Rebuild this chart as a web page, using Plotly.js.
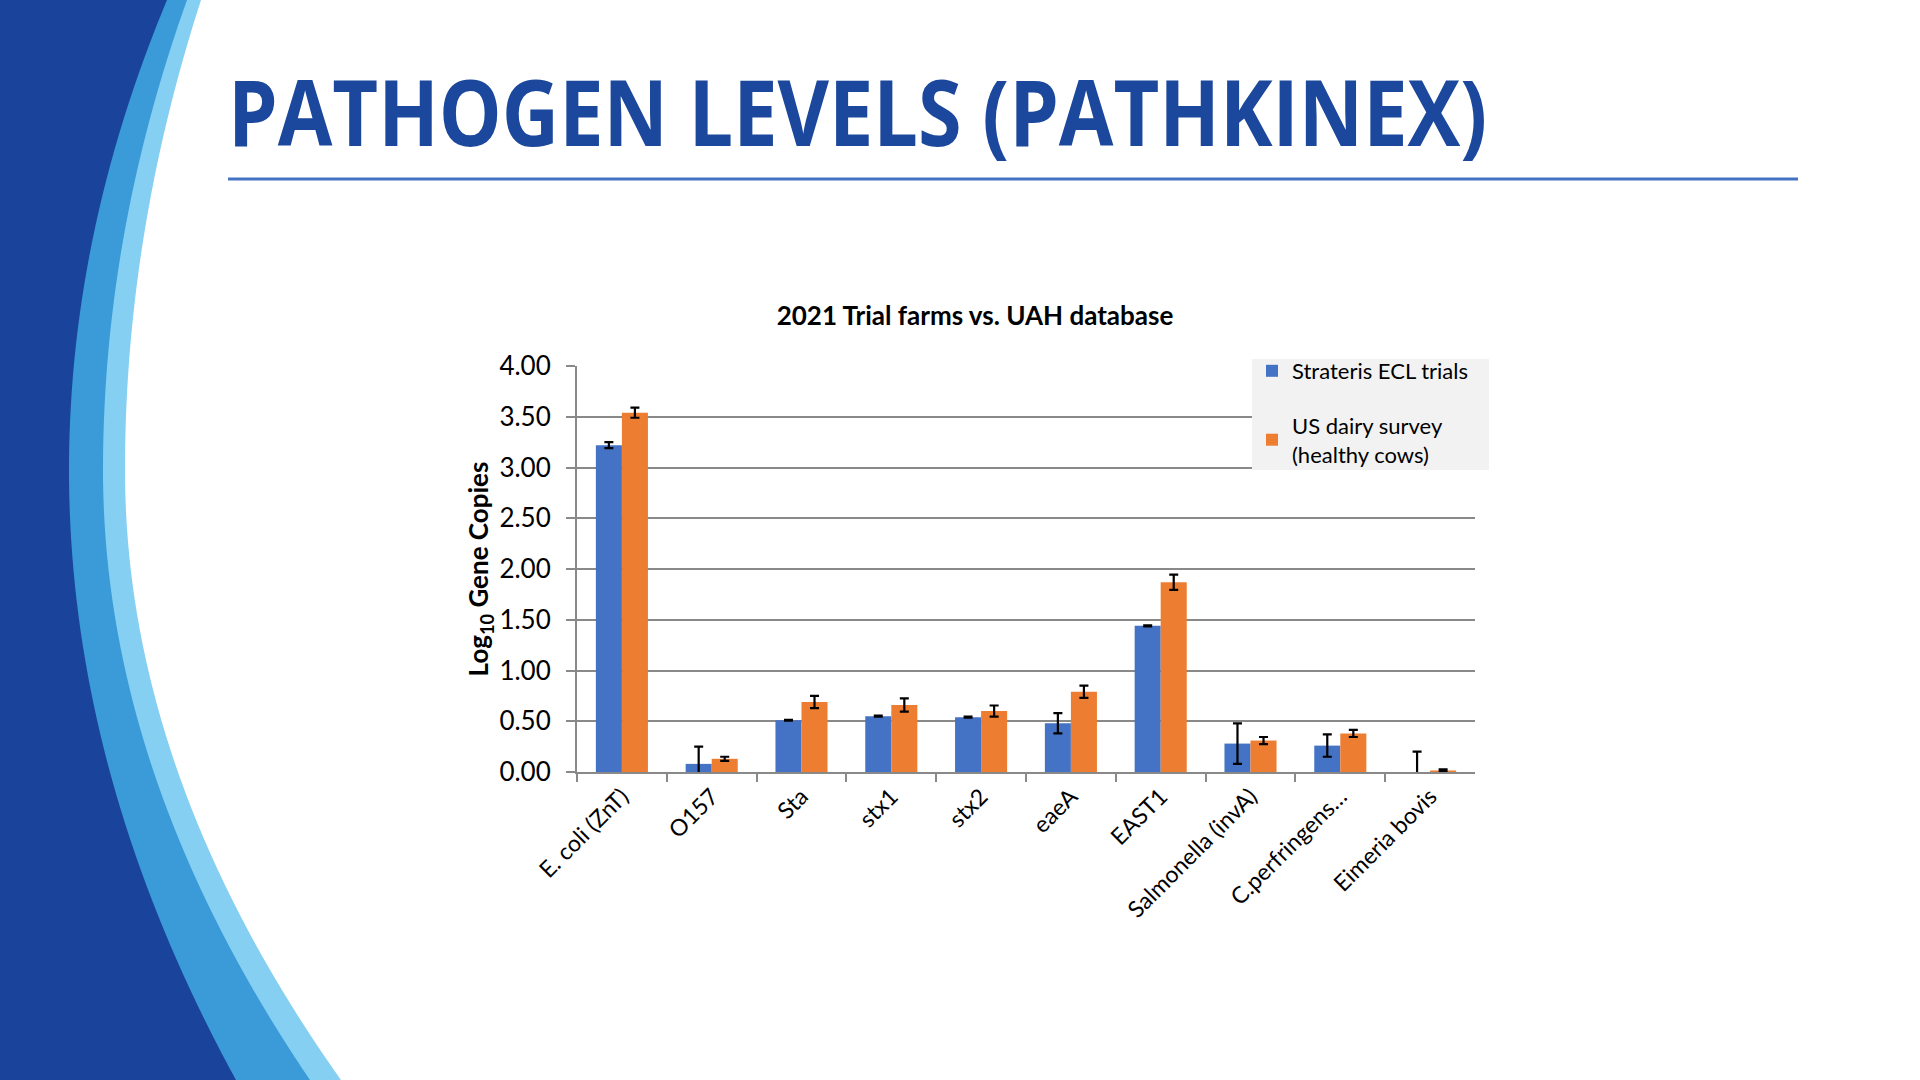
<!DOCTYPE html>
<html>
<head>
<meta charset="utf-8">
<script src="https://cdn.plot.ly/plotly-3.0.1.min.js"></script>
<style>
  html, body { margin: 0; padding: 0; background: #ffffff; }
  #chart { width: 1920px; height: 1080px; }
</style>
</head>
<body>
<div id="chart"></div>
<script>
// ---- data ----
const categories = ["E. coli (ZnT)", "O157", "Sta", "stx1", "stx2", "eaeA", "EAST1", "Salmonella (invA)", "C.perfringens…", "Eimeria bovis"];
const strateris = [3.22, 0.08, 0.51, 0.55, 0.54, 0.48, 1.44, 0.28, 0.26, 0.00];
const strateris_err = [0.03, 0.17, 0.005, 0.005, 0.005, 0.10, 0.005, 0.20, 0.11, 0.20];
const survey = [3.54, 0.13, 0.69, 0.66, 0.60, 0.79, 1.87, 0.31, 0.38, 0.015];
const survey_err = [0.05, 0.02, 0.06, 0.065, 0.055, 0.06, 0.075, 0.035, 0.035, 0.01];
const seriesNames = ["Strateris ECL trials", "US dairy survey<br>(healthy cows)"];
const yTicks = [0, 0.5, 1, 1.5, 2, 2.5, 3, 3.5, 4];

// ---- slide geometry helpers (pixel -> paper) ----
const W = 1920, H = 1080;
const X = x => (x / W).toFixed(5);
const Y = y => (1 - y / H).toFixed(5);

// decorative arc edge: x(y) = xmin + k*(y - y0)^2 with separate k above/below the vertex
function edgePoints(xTop, xMin, xBottom, y0) {
  const k1 = (xTop - xMin) / (y0 * y0);
  const k2 = (xBottom - xMin) / ((H - y0) * (H - y0));
  const pts = [];
  for (let y = 0; y <= H; y += 30) {
    const k = y < y0 ? k1 : k2;
    pts.push([xMin + k * (y - y0) * (y - y0), y]);
  }
  pts.push([xMin + k2 * (H - y0) * (H - y0), H]);
  return pts;
}

function smoothRegion(pts) {
  let d = `M${X(-10)},${Y(-10)} L${X(pts[0][0])},${Y(-10)} L${X(pts[0][0])},${Y(pts[0][1])}`;
  for (let i = 0; i < pts.length - 1; i++) {
    const p0 = pts[i - 1] || pts[i], p1 = pts[i], p2 = pts[i + 1], p3 = pts[i + 2] || pts[i + 1];
    const c1 = [p1[0] + (p2[0] - p0[0]) / 6, p1[1] + (p2[1] - p0[1]) / 6];
    const c2 = [p2[0] - (p3[0] - p1[0]) / 6, p2[1] - (p3[1] - p1[1]) / 6];
    d += ` C${X(c1[0])},${Y(c1[1])} ${X(c2[0])},${Y(c2[1])} ${X(p2[0])},${Y(p2[1])}`;
  }
  const last = pts[pts.length - 1];
  d += ` L${X(last[0])},${Y(1090)} L${X(-10)},${Y(1090)} Z`;
  return d;
}

const shapes = [
  {type:'path', xref:'paper', yref:'paper', path: smoothRegion(edgePoints(201, 125, 341, 470)), fillcolor:'#85CFF3', line:{width:0}, layer:'below'},
  {type:'path', xref:'paper', yref:'paper', path: smoothRegion(edgePoints(187, 103, 310, 470)), fillcolor:'#3A9BD8', line:{width:0}, layer:'below'},
  {type:'path', xref:'paper', yref:'paper', path: smoothRegion(edgePoints(167, 69, 236, 470)), fillcolor:'#1A449B', line:{width:0}, layer:'below'},
  {type:'line', xref:'paper', yref:'paper', x0: 228/W, x1: 1798/W, y0: 1 - 179/H, y1: 1 - 179/H, line:{color:'#4472C4', width:3}},
  // legend background box (opaque, covers the gridlines like the reference)
  {type:'rect', xref:'paper', yref:'paper', x0: 1252/W, x1: 1489/W, y0: 1 - 470/H, y1: 1 - 359/H,
   fillcolor:'#F2F2F2', line:{width:0}, layer:'above'}
];

const gridGray = '#898989';
const errStyle = {type:'data', visible:true, color:'#000000', thickness:2.2, width:4.5};

const traces = [
  {type:'bar', name: seriesNames[0], x: categories, y: strateris, marker:{color:'#4472C4'},
   error_y: Object.assign({array: strateris_err}, errStyle), legendgroup:'a', cliponaxis:true, hoverinfo:'x+y'},
  {type:'bar', name: seriesNames[1], x: categories, y: survey, marker:{color:'#ED7D31'},
   error_y: Object.assign({array: survey_err}, errStyle), legendgroup:'b', cliponaxis:true, hoverinfo:'x+y'}
];

const layout = {
  width: W, height: H,
  margin: {l:0, r:0, t:0, b:0},
  paper_bgcolor: '#ffffff', plot_bgcolor: '#ffffff',
  font: {family: 'Lato, "Open Sans", sans-serif', color: '#000000'},
  barmode: 'group', bargap: 0.42, bargroupgap: 0,
  showlegend: true,
  title: {text: '<b>2021 Trial farms vs. UAH database</b>', font:{family:'Lato', size:26, color:'#000000'},
          x: 975/W, xanchor:'center', xref:'paper', y: 1 - 316/H, yanchor:'middle', yref:'container'},
  xaxis: {
    domain: [577/W, 1475/W], type:'category', automargin:false,
    showline:true, linecolor: gridGray, linewidth:2,
    ticks:'outside', tickson:'boundaries', ticklen:8, tickwidth:2, tickcolor: gridGray,
    tickangle:-45, tickfont:{family:'Lato', size:23, color:'#000000'},
    showgrid:false, zeroline:false, fixedrange:true
  },
  yaxis: {
    domain: [1 - 772/H, 1 - 366/H], range:[0, 4], automargin:false,
    tickvals: yTicks, tickformat: '.2f',
    showgrid:true, gridcolor: gridGray, gridwidth:2,
    showline:true, linecolor: gridGray, linewidth:2,
    ticks:'outside', ticklen:9, tickwidth:2, tickcolor: gridGray,
    ticklabelstandoff: 10,
    tickfont:{family:'Lato', size:26, color:'#000000'},
    zeroline:false, fixedrange:true,
    title: {text:'<b>Log<sub>10</sub> Gene Copies</b>', font:{family:'Lato', size:26, color:'#000000'}, standoff: 3}
  },
  legend: {
    x: 1252/W, y: 1 - 350/H, xanchor:'left', yanchor:'top',
    bgcolor:'rgba(0,0,0,0)', borderwidth:0,
    font:{family:'Lato', size:22, color:'#000000'},
    traceorder:'grouped', tracegroupgap: 23, itemwidth:30
  },
  annotations: [
    {text:'<b>PATHOGEN LEVELS (PATHKINEX)</b>', xref:'paper', yref:'paper',
     x: 226/W, xanchor:'left', y: 1 - 110/H, yanchor:'middle', showarrow:false,
     font:{family:'"Open Sans", sans-serif', size:79.2, color:'#1B479C'}}
  ],
  shapes: shapes
};

Plotly.newPlot('chart', traces, layout, {displayModeBar:false, staticPlot:true}).then(gd => {
  // the slide title in the reference is drawn taller (narrow letterforms): stretch it vertically
  const t = gd.querySelector('.annotation-text');
  if (t) {
    t.style.transformBox = 'fill-box';
    t.style.transformOrigin = 'center';
    t.style.transform = 'scaleY(1.16)';
  }
});
</script>
</body>
</html>
